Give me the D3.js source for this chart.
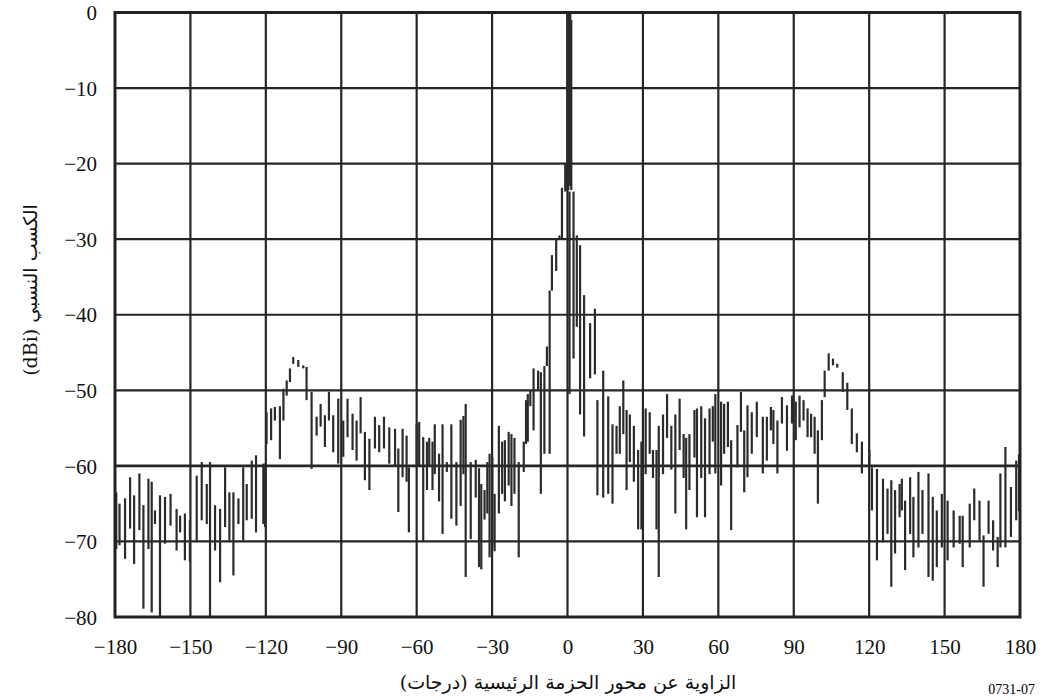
<!DOCTYPE html>
<html>
<head>
<meta charset="utf-8">
<script src="https://cdn.jsdelivr.net/npm/d3@7"></script>
<style>
  body { margin: 0; background: #fff; }
  .tick text { font-family: "Liberation Serif", "Times New Roman", serif; font-size: 21px; fill: #111; }
  .title { font-family: "DejaVu Serif", "DejaVu Sans", serif; font-size: 19px; fill: #111; }
</style>
</head>
<body>
<svg id="chart" width="1043" height="700"></svg>
<script>
// tick values
const xTicks = [-180, -150, -120, -90, -60, -30, 0, 30, 60, 90, 120, 150, 180];
const yTicks = [0, -10, -20, -30, -40, -50, -60, -70, -80];

// each stroke: [angle (deg), upper gain (dBi), lower gain (dBi)]
const backLeft = [
  [-179.5, -63.5, -71.0], [-178.2, -65.0, -70.5], [-176.0, -64.3, -72.3], [-174.0, -61.5, -68.3],
  [-172.4, -63.9, -73.0], [-170.3, -61.0, -68.5], [-168.7, -65.2, -78.9], [-166.7, -61.7, -71.0],
  [-165.4, -62.1, -79.4], [-164.1, -65.9, -67.7], [-162.1, -63.9, -80.0], [-160.1, -64.1, -70.3],
  [-157.9, -63.7, -67.9], [-155.5, -65.7, -71.2], [-154.1, -66.6, -68.8], [-152.2, -66.3, -72.5],
  [-150.2, -67.2, -72.7], [-147.5, -61.3, -69.9], [-145.5, -59.5, -67.2], [-143.5, -62.4, -67.7],
  [-142.2, -59.5, -80.0], [-140.2, -65.2, -71.2], [-138.2, -65.7, -75.4], [-136.2, -60.2, -68.1],
  [-134.5, -63.5, -69.9], [-132.9, -63.5, -74.5], [-130.9, -64.3, -67.7], [-129.0, -60.2, -69.9],
  [-127.6, -62.4, -67.2], [-125.6, -59.3, -67.0], [-123.9, -58.6, -68.8], [-121.0, -59.7, -67.7],
  [-120.3, -59.7, -68.1]
];

const lobeLeft = [
  [-119.7, -52.9, -57.1], [-117.9, -52.4, -56.6], [-116.4, -52.2, -54.0], [-114.4, -52.1, -59.1],
  [-113.0, -49.8, -54.0], [-111.7, -48.7, -50.7], [-110.4, -47.1, -48.9], [-109.1, -45.6, -46.5],
  [-107.1, -46.0, -46.9], [-105.1, -46.7, -47.1], [-103.8, -46.9, -51.3], [-101.8, -50.2, -60.4],
  [-99.8, -53.5, -56.0], [-98.2, -51.8, -54.8], [-96.5, -53.3, -57.5], [-94.9, -50.2, -54.0],
  [-93.2, -53.3, -58.2], [-91.2, -51.1, -59.7], [-89.2, -54.0, -58.8], [-87.5, -51.1, -56.2],
  [-85.5, -53.1, -57.9], [-83.9, -54.0, -59.3], [-82.3, -50.9, -55.7], [-80.6, -55.5, -61.9],
  [-78.8, -56.4, -63.2], [-76.6, -53.5, -57.7], [-74.9, -54.6, -58.2], [-73.0, -53.5, -57.7],
  [-70.9, -54.9, -59.7], [-68.6, -55.1, -59.9], [-67.3, -57.7, -66.1], [-65.6, -55.1, -61.5],
  [-64.0, -56.0, -62.1], [-63.1, -60.2, -68.8], [-60.0, -54.4, -60.2]
];

const nearLeft = [
  [-59.0, -54.2, -60.0], [-57.4, -56.2, -70.0], [-55.9, -56.8, -63.2], [-55.0, -56.3, -60.0],
  [-53.7, -56.8, -63.2], [-52.8, -54.5, -61.1], [-51.1, -58.4, -64.7], [-49.7, -54.5, -69.0],
  [-48.0, -59.5, -60.8], [-46.2, -54.5, -67.0], [-44.2, -59.5, -67.9], [-42.5, -53.9, -65.3],
  [-41.4, -53.4, -61.1], [-40.5, -51.8, -74.7], [-38.5, -59.5, -69.7], [-36.5, -59.2, -64.2],
  [-35.2, -60.3, -73.4], [-34.3, -62.4, -73.7], [-33.0, -63.2, -67.1], [-31.9, -59.5, -66.3],
  [-31.0, -58.4, -72.1], [-29.9, -58.9, -70.5], [-29.0, -63.7, -71.3], [-27.3, -54.7, -66.3],
  [-26.0, -56.8, -63.7], [-24.9, -56.6, -64.7], [-23.4, -55.5, -62.6], [-22.3, -55.8, -65.3],
  [-21.1, -56.3, -63.7], [-19.4, -59.5, -72.1], [-17.4, -56.8, -60.8], [-16.5, -51.3, -57.1],
  [-15.8, -50.5, -56.8], [-14.8, -50.0, -52.1], [-13.5, -47.1, -55.3], [-11.7, -47.4, -50.0],
  [-10.6, -47.6, -63.7], [-9.2, -46.8, -58.4], [-8.2, -44.2, -46.8], [-7.1, -36.8, -58.4],
  [-6.2, -32.1, -36.8], [-4.5, -30.0, -34.2], [-3.2, -29.5, -30.0], [-2.2, -23.2, -30.0],
  [-0.9, -20.0, -23.7]
];

const mainBeam = [
  [-0.4, -20.0, -23.5], [-0.1, 0.0, -22.0], [0.3, 0.0, -23.5], [0.7, 0.0, -22.5],
  [1.1, 0.0, -23.0], [1.5, -1.0, -23.5]
];

const nearRight = [
  [0.8, -23.7, -50.5], [2.4, -23.7, -45.8], [3.7, -29.5, -41.6], [5.0, -30.8, -53.2],
  [6.6, -37.4, -56.1], [9.0, -41.1, -48.4], [10.9, -39.2, -47.9], [11.9, -51.3, -63.9],
  [14.2, -47.4, -64.2], [16.2, -50.8, -63.7], [17.9, -54.5, -65.0], [19.5, -54.7, -58.4],
  [20.8, -52.1, -58.4], [22.2, -48.7, -55.8], [23.5, -52.6, -63.2], [24.8, -53.2, -59.5],
  [26.4, -54.7, -62.1], [28.1, -57.9, -68.4], [29.4, -56.8, -68.4], [31.1, -52.4, -61.1],
  [32.7, -52.9, -58.4], [34.0, -57.9, -61.6], [35.4, -57.9, -68.4], [36.3, -54.7, -74.7],
  [38.0, -53.2, -61.1], [39.6, -50.5, -56.3], [41.3, -54.7, -60.5], [42.9, -53.2, -66.3],
  [44.6, -51.1, -57.9], [46.2, -55.8, -61.6], [47.2, -56.3, -68.4], [48.5, -55.8, -63.2],
  [50.5, -52.6, -58.9], [51.5, -52.4, -66.8], [53.2, -52.1, -61.6], [54.7, -53.7, -66.8],
  [56.5, -52.4, -61.1], [57.8, -52.1, -56.8], [58.8, -50.5, -61.0]
];

const lobeRight = [
  [61.1, -51.5, -62.6], [62.3, -51.8, -58.4], [63.8, -51.5, -57.5], [65.1, -56.6, -68.5],
  [67.6, -54.6, -60.2], [69.0, -50.2, -55.5], [70.3, -55.3, -63.5], [71.6, -52.0, -61.5],
  [73.3, -52.9, -58.4], [75.3, -51.5, -56.2], [77.7, -53.5, -61.0], [79.3, -53.5, -59.3],
  [80.9, -52.2, -55.3], [81.9, -52.6, -57.1], [83.5, -54.0, -61.0], [85.3, -50.9, -54.4],
  [87.3, -52.0, -58.0], [89.3, -50.7, -54.4], [90.8, -51.5, -56.6], [92.3, -50.7, -54.9],
  [93.9, -51.3, -54.0], [95.5, -52.4, -56.2], [96.9, -53.1, -56.2], [98.3, -53.5, -58.4],
  [99.6, -55.3, -65.0], [101.2, -51.3, -56.6], [102.3, -47.4, -50.9], [103.9, -45.1, -47.4],
  [105.6, -45.8, -46.7], [107.3, -46.5, -47.0], [109.5, -47.6, -50.2], [111.3, -49.0, -52.6],
  [113.1, -52.4, -57.1], [115.1, -55.7, -58.2], [117.1, -56.8, -61.0], [120.1, -57.9, -60.2]
];

const backRight = [
  [121.1, -60.2, -65.9], [123.1, -60.4, -72.5], [125.5, -61.7, -70.1], [127.3, -63.0, -69.0],
  [128.8, -61.9, -76.0], [130.3, -63.2, -71.6], [132.1, -62.4, -66.8], [133.0, -61.7, -65.9],
  [134.3, -64.6, -73.8], [136.3, -61.5, -69.0], [137.6, -64.1, -72.1], [139.6, -60.8, -70.8],
  [141.2, -63.2, -69.0], [143.6, -61.0, -74.7], [145.3, -64.1, -75.2], [146.9, -65.9, -73.4],
  [148.9, -63.7, -70.8], [151.2, -64.6, -72.5], [153.6, -65.9, -70.8], [156.0, -66.6, -70.3],
  [157.2, -66.6, -73.4], [160.0, -65.0, -70.8], [161.8, -63.0, -67.2], [163.9, -64.6, -69.9],
  [165.5, -69.2, -76.0], [167.5, -64.6, -69.0], [169.3, -67.2, -71.2], [171.1, -69.4, -73.4],
  [172.2, -61.0, -70.8], [174.2, -57.5, -70.8], [176.4, -62.8, -69.4], [178.5, -59.3, -67.2],
  [179.6, -58.5, -66.0]
];

const yTitle = "الكسب النسبي (dBi)";
const xTitle = "الزاوية عن محور الحزمة الرئيسية (درجات)";
const figId = "0731-07";

const margin = { top: 12.5, right: 23, bottom: 83, left: 115 };
const width = 1043, height = 700;

var svg = d3.select("#chart");

const x = d3.scaleLinear()
  .domain([-180, 180])
  .range([margin.left, width - margin.right]);

const y = d3.scaleLinear()
  .domain([-80, 0])
  .range([height - margin.bottom, margin.top]);

// grid
var grid = svg.append("g").attr("stroke", "#262626").attr("stroke-width", 2.2);

grid.selectAll(".vline")
  .data(xTicks.slice(1, -1))
  .enter().append("line")
  .attr("x1", d => x(d)).attr("x2", d => x(d))
  .attr("y1", y(0)).attr("y2", y(-80));

grid.selectAll(".hline")
  .data(yTicks.slice(1, -1))
  .enter().append("line")
  .attr("x1", x(-180)).attr("x2", x(180))
  .attr("y1", d => y(d)).attr("y2", d => y(d))
  .attr("stroke-width", d => d == -60 ? 2.8 : 2.2);

// pattern trace
var strokes = [].concat(backLeft, lobeLeft, nearLeft, mainBeam, nearRight, lobeRight, backRight);

svg.append("g")
  .attr("stroke", "#2b2b2b")
  .attr("stroke-width", 2.2)
  .selectAll("line")
  .data(strokes)
  .enter().append("line")
  .attr("x1", d => x(d[0])).attr("x2", d => x(d[0]))
  .attr("y1", d => y(d[1])).attr("y2", d => y(d[2]));

// frame
svg.append("rect")
  .attr("x", x(-180)).attr("y", y(0))
  .attr("width", x(180) - x(-180))
  .attr("height", y(-80) - y(0))
  .attr("fill", "none")
  .attr("stroke", "#222")
  .attr("stroke-width", 3);

// axes
const xAxis = d3.axisBottom(x).tickValues(xTicks).tickSize(0).tickPadding(26);
const yAxis = d3.axisLeft(y).tickValues(yTicks).tickSize(0).tickPadding(18);

svg.append("g")
  .attr("transform", `translate(0,${y(-80)})`)
  .call(xAxis)
  .call(g => g.select(".domain").remove())
  .selectAll("text").attr("dy", "0.5em");

svg.append("g")
  .attr("transform", `translate(${x(-180)},0)`)
  .call(yAxis)
  .call(g => g.select(".domain").remove())
  .selectAll("text").attr("dy", "0.34em");

// titles
svg.append("text")
  .attr("class", "title")
  .attr("transform", `translate(37,290) rotate(-90)`)
  .attr("text-anchor", "middle")
  .style("direction", "rtl")
  .text(yTitle);

svg.append("text")
  .attr("class", "title")
  .attr("x", 568).attr("y", 689)
  .attr("text-anchor", "middle")
  .style("direction", "rtl")
  .text(xTitle);

svg.append("text")
  .attr("x", 1035).attr("y", 694)
  .attr("text-anchor", "end")
  .style("font-family", "Liberation Serif, serif")
  .style("font-size", "14px")
  .text(figId);
</script>
</body>
</html>
